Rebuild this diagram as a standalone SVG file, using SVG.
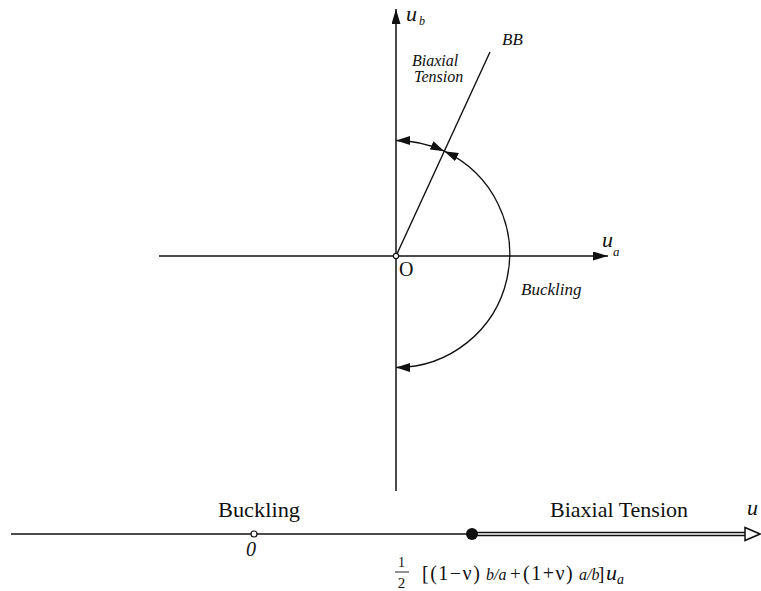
<svg xmlns="http://www.w3.org/2000/svg" width="761" height="591" viewBox="0 0 761 591">
<style>
  .ln { stroke: #111; stroke-width: 1.5; fill: none; }
  .arc { stroke: #111; stroke-width: 1.3; fill: none; marker-start: url(#ah); marker-end: url(#ah); }
  text { font-family: "Liberation Serif", "DejaVu Serif", serif; fill: #111; }
  .it { font-style: italic; }
  .fm { font-size: 20px; letter-spacing: 1.5px; }
</style>
<defs>
  <marker id="ah" markerUnits="userSpaceOnUse" markerWidth="16" markerHeight="10" refX="14" refY="4.5" orient="auto-start-reverse">
    <path d="M0,0 L14,4.5 L0,9 z" fill="#111"/>
  </marker>
  <marker id="axh" markerUnits="userSpaceOnUse" markerWidth="16" markerHeight="10" refX="15" refY="4.5" orient="auto">
    <path d="M0,0 L15,4.5 L0,9 z" fill="#111"/>
  </marker>
</defs>

<g id="connectors">
  <line id="axis-ua" class="ln" x1="159" y1="256" x2="608" y2="256" marker-end="url(#axh)"/>
  <line id="axis-ub" class="ln" x1="396" y1="491" x2="396" y2="9" marker-end="url(#axh)"/>
  <line id="line-bb" x1="396" y1="256" x2="490" y2="52" stroke="#111" stroke-width="1.4"/>
  <path id="arc-small" class="arc" d="M444.3,151.2 A113.5,113.5 0 0 0 396,140.5"/>
  <path id="arc-big" class="arc" d="M396,367.5 A113.5,113.5 0 0 0 444.3,151.2"/>
</g>

<g id="origin">
  <circle cx="396" cy="256" r="2.6" fill="#fff" stroke="#111" stroke-width="1.1"/>
  <text x="399" y="276" font-size="20">O</text>
</g>

<g id="label-ub">
  <text class="it" x="406" y="21" font-size="22">u</text>
  <text class="it" x="419" y="25" font-size="12">b</text>
</g>
<g id="label-ua">
  <text class="it" x="602" y="247" font-size="22">u</text>
  <text class="it" x="613" y="256" font-size="13">a</text>
</g>
<g id="label-bb">
  <text class="it" x="502" y="45" font-size="17">BB</text>
</g>
<g id="label-biaxial">
  <text class="it" x="412" y="66" font-size="16">Biaxial</text>
  <text class="it" x="414" y="82" font-size="16">Tension</text>
</g>
<g id="label-buckling">
  <text class="it" x="521" y="295" font-size="17">Buckling</text>
</g>

<g id="number-line">
  <line x1="11" y1="534" x2="472" y2="534" stroke="#111" stroke-width="1.5"/>
  <line x1="472" y1="534" x2="746" y2="534" stroke="#111" stroke-width="4.5"/>
  <line x1="472" y1="534" x2="747" y2="534" stroke="#fff" stroke-width="1.4"/>
  <path d="M745,527.5 L760,534 L745,540.5 z" fill="#fff" stroke="#111" stroke-width="1.5"/>
  <circle cx="254" cy="534" r="3" fill="#fff" stroke="#111" stroke-width="1.2"/>
  <circle cx="472" cy="534" r="6" fill="#111"/>
</g>

<g id="label-buckling-bottom">
  <text x="218" y="517" font-size="22" textLength="82" lengthAdjust="spacingAndGlyphs">Buckling</text>
</g>
<g id="label-zero">
  <text class="it" x="251" y="556" font-size="20" text-anchor="middle">0</text>
</g>
<g id="label-tension-bottom">
  <text x="550" y="517" font-size="22" textLength="138" lengthAdjust="spacingAndGlyphs">Biaxial Tension</text>
</g>
<g id="label-u">
  <text class="it" x="747" y="515" font-size="22">u</text>
</g>

<g id="formula">
  <text x="401.5" y="567" font-size="14" text-anchor="middle">1</text>
  <line x1="395" y1="572" x2="409" y2="572" stroke="#111" stroke-width="0.9"/>
  <text x="401.5" y="588" font-size="15" text-anchor="middle">2</text>
  <text class="fm" x="422" y="580">[(1−ν)</text>
  <text class="it" x="486" y="580" font-size="16">b/a</text>
  <text x="510" y="580" font-size="19">+</text>
  <text class="fm" x="523" y="580">(1+ν)</text>
  <text class="it" x="579" y="580" font-size="16">a/b</text>
  <text x="598" y="580" font-size="19">]</text>
  <text class="it" x="606" y="580" font-size="22">u</text>
  <text class="it" x="617" y="584" font-size="14">a</text>
</g>
</svg>
